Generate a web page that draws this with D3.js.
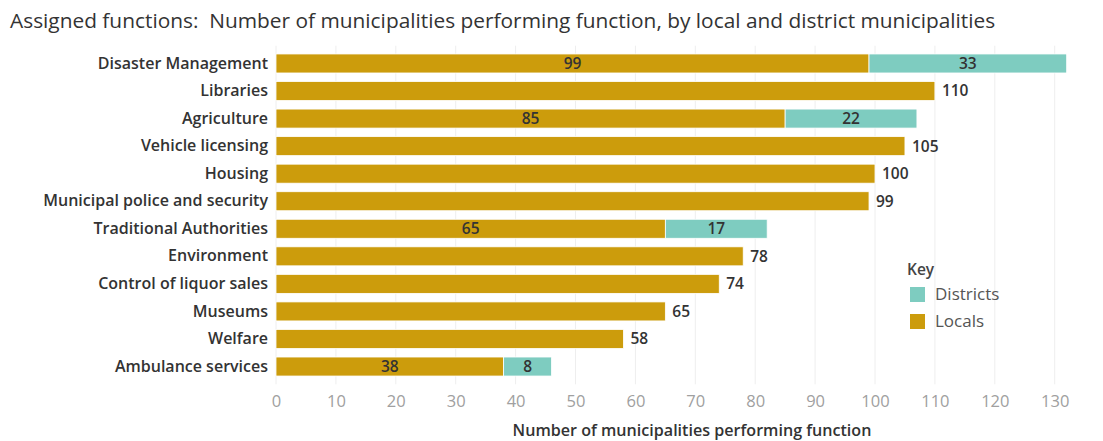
<!DOCTYPE html>
<html>
<head>
<meta charset="utf-8">
<script src="https://cdn.jsdelivr.net/npm/d3@7"></script>
<style>
  html, body { margin: 0; padding: 0; background: #fff; }
  svg { display: block; font-family: "Open Sans", "Noto Sans", sans-serif; }
</style>
</head>
<body>
<div id="chart"></div>
<script>
const categories = [
    'Disaster Management', 'Libraries', 'Agriculture', 'Vehicle licensing', 'Housing',
    'Municipal police and security', 'Traditional Authorities', 'Environment',
    'Control of liquor sales', 'Museums', 'Welfare', 'Ambulance services'
];
const locals = [99, 110, 85, 105, 100, 99, 65, 78, 74, 65, 58, 38];
const districts = [33, 0, 22, 0, 0, 0, 17, 0, 0, 0, 0, 8];
const xTicks = [0, 10, 20, 30, 40, 50, 60, 70, 80, 90, 100, 110, 120, 130];
const keys = ['Districts', 'Locals'];

const colors = { Locals: '#cc9c0c', Districts: '#7eccc0' };

const W = 1103, H = 441;
const margin = { top: 49.7, right: 35, bottom: 60.7, left: 276 };

const svg = d3.select('#chart').append('svg')
    .attr('width', W)
    .attr('height', H);

// fit a text element to a target width by changing its font size
function fitWidth (sel, target) {
    const n = sel.node();
    const fs = parseFloat(sel.attr('font-size'));
    const w = n.getComputedTextLength();
    if (w > 0) sel.attr('font-size', fs * target / w);
}

// scales
const x = d3.scaleLinear()
    .domain([0, 132])
    .range([margin.left, margin.left + 132 * 5.99]);
const y = d3.scaleBand()
    .domain(categories)
    .range([margin.top, H - margin.bottom])
    .paddingInner(0.31)
    .paddingOuter(0.155);

// title
const title = svg.append('text')
    .attr('x', 10)
    .attr('y', 28)
    .attr('font-size', 18)
    .attr('fill', '#333')
    .text('Assigned functions:  Number of municipalities performing function, by local and district municipalities');
title.style('white-space', 'pre');
fitWidth(title, 986);

// gridlines
svg.append('g')
    .selectAll('line')
    .data(xTicks)
    .join('line')
    .attr('x1', d => x(d))
    .attr('x2', d => x(d))
    .attr('y1', margin.top - 4)
    .attr('y2', H - margin.bottom + 4)
    .attr('stroke', '#eeeeee')
    .attr('stroke-width', 1);

// x axis
const xAxis = d3.axisBottom(x).tickValues(xTicks).tickSize(0).tickPadding(0);
const gx = svg.append('g')
    .attr('transform', `translate(0, ${H - margin.bottom})`)
    .call(xAxis);
gx.select('.domain').remove();
gx.selectAll('text')
    .attr('y', 27)
    .attr('dy', 0)
    .attr('font-size', 16.5)
    .attr('font-family', '"Open Sans", sans-serif')
    .attr('fill', '#a0a0a0');

const xTitle = svg.append('text')
    .attr('x', 692)
    .attr('y', 436)
    .attr('text-anchor', 'middle')
    .attr('font-size', 15)
    .attr('font-weight', 600)
    .attr('fill', '#333')
    .text('Number of municipalities performing function');
fitWidth(xTitle, 359);

// y axis
const yAxis = d3.axisLeft(y).tickSize(0).tickPadding(8);
const gy = svg.append('g')
    .attr('transform', `translate(${margin.left}, 0)`)
    .call(yAxis);
gy.select('.domain').remove();
gy.selectAll('text')
    .attr('font-size', 16)
    .attr('font-weight', 600)
    .attr('font-family', '"Open Sans", sans-serif')
    .attr('fill', '#333');

// stacked bars
const rows = categories.map((c, i) => ({ name: c, Locals: locals[i], Districts: districts[i] }));
const stack = d3.stack().keys(['Locals', 'Districts'])(rows);

svg.append('g')
    .selectAll('g')
    .data(stack)
    .join('g')
    .attr('fill', d => colors[d.key])
    .selectAll('rect')
    .data(d => d.filter(s => s[1] > s[0]))
    .join('rect')
    .attr('x', d => x(d[0]))
    .attr('y', d => y(d.data.name))
    .attr('width', d => x(d[1]) - x(d[0]))
    .attr('height', y.bandwidth())
    .attr('stroke', '#fff')
    .attr('stroke-width', 0.8);

// value labels
const labels = svg.append('g')
    .attr('font-size', 15.5)
    .attr('font-weight', 600)
    .attr('fill', '#333');

rows.forEach(r => {
    const cy = y(r.name) + y.bandwidth() / 2;
    if (r.Districts > 0) {
        labels.append('text')
            .attr('x', x(r.Locals / 2))
            .attr('y', cy)
            .attr('dy', '0.35em')
            .attr('text-anchor', 'middle')
            .text(r.Locals);
        labels.append('text')
            .attr('x', x(r.Locals + r.Districts / 2))
            .attr('y', cy)
            .attr('dy', '0.35em')
            .attr('text-anchor', 'middle')
            .text(r.Districts);
    } else {
        labels.append('text')
            .attr('x', x(r.Locals) + 7)
            .attr('y', cy)
            .attr('dy', '0.35em')
            .text(r.Locals);
    }
});

// legend
const legend = svg.append('g').attr('transform', 'translate(907, 0)');
legend.append('text')
    .attr('x', 0)
    .attr('y', 270)
    .attr('dy', '0.35em')
    .attr('font-size', 15.5)
    .attr('font-weight', 600)
    .attr('fill', '#444')
    .text('Key');
const items = legend.selectAll('g.item')
    .data(keys)
    .join('g')
    .attr('class', 'item')
    .attr('transform', (d, i) => `translate(3, ${287 + i * 27})`);
items.append('rect')
    .attr('width', 15)
    .attr('height', 15)
    .attr('fill', d => colors[d]);
items.append('text')
    .attr('x', 25)
    .attr('y', 7.5)
    .attr('dy', '0.35em')
    .attr('font-size', 17)
    .attr('fill', '#555')
    .text(d => d);
</script>
</body>
</html>
